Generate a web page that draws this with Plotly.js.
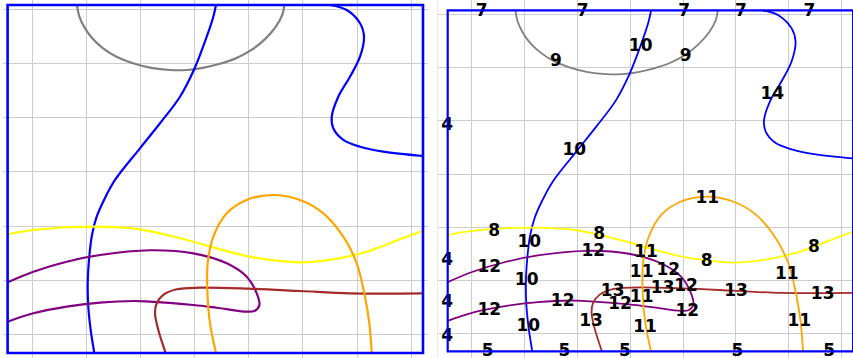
<!DOCTYPE html>
<html>
<head>
<meta charset="utf-8">
<script src="https://cdn.plot.ly/plotly-3.0.1.min.js"></script>
<style>
  html, body { margin: 0; padding: 0; background: #fff; }
  #chart { width: 853px; height: 358px; }
</style>
</head>
<body>
<div id="chart"></div>
<script>
// Domain of the contour field (grid units)
const domainX = [-0.45, 7.215];
const domainY = [-0.342, 6.08];

// Contour lines, in grid units
const grayArcX = [0.830, 0.870, 0.960, 1.100, 1.300, 1.550, 1.850, 2.200, 2.550, 2.850, 3.150, 3.450, 3.750, 4.050, 4.300, 4.500, 4.620, 4.656];
const grayArcY = [6.080, 5.880, 5.680, 5.480, 5.290, 5.130, 5.010, 4.920, 4.880, 4.880, 4.920, 4.990, 5.090, 5.250, 5.450, 5.680, 5.900, 6.080];

const blueLeftX = [3.395, 3.346, 3.224, 2.995, 2.731, 2.362, 1.993, 1.532, 1.329, 1.194, 1.107, 1.057, 1.028, 1.039, 1.083, 1.150];
const blueLeftY = [6.080, 5.863, 5.494, 4.898, 4.387, 3.897, 3.435, 2.851, 2.482, 2.173, 1.836, 1.435, 0.945, 0.513, 0.083, -0.342];

const blueRightX = [5.499, 5.807, 6.053, 6.127, 6.053, 5.868, 5.652, 5.531, 5.560, 5.745, 6.053, 6.483, 7.215];
const blueRightY = [6.080, 5.987, 5.742, 5.494, 5.125, 4.756, 4.387, 4.018, 3.804, 3.589, 3.465, 3.373, 3.293];

const yellowX = [-0.45, 0.024, 1.131, 1.993, 2.855, 3.408, 4.084, 4.946, 5.560, 6.176, 6.791, 7.215];
const yellowY = [1.849, 1.928, 1.989, 1.941, 1.744, 1.590, 1.424, 1.332, 1.387, 1.528, 1.756, 1.915];

const purpleX = [-0.45, 0.024, 0.640, 1.255, 2.178, 2.977, 3.593, 3.962, 4.147, 4.195, 4.115, 3.962, 3.408, 2.977, 2.178, 1.869, 1.255, 0.640, 0.024, -0.45];
const purpleY = [0.963, 1.159, 1.343, 1.467, 1.554, 1.498, 1.314, 1.066, 0.760, 0.544, 0.439, 0.421, 0.494, 0.544, 0.605, 0.618, 0.587, 0.513, 0.391, 0.236];

const brownX = [2.467, 2.331, 2.270, 2.301, 2.423, 2.670, 3.100, 3.991, 4.946, 5.868, 7.215];
const brownY = [-0.342, 0.083, 0.391, 0.576, 0.729, 0.834, 0.863, 0.845, 0.803, 0.760, 0.760];

const orangeX = [3.395, 3.285, 3.235, 3.242, 3.346, 3.593, 3.962, 4.453, 4.946, 5.376, 5.745, 5.992, 6.145, 6.224, 6.269];
const orangeY = [-0.342, 0.207, 0.821, 1.314, 1.804, 2.236, 2.482, 2.574, 2.482, 2.236, 1.804, 1.314, 0.697, 0.207, -0.342];

// Labels of the annotated copy
const labelText = [
  '7', '7', '7', '7', '7',
  '9', '9', '10', '10', '14',
  '4', '4', '4', '4',
  '6', '6', '6', '6',
  '11', '8', '8', '8', '8',
  '10', '10', '10',
  '12', '12', '12', '12', '12', '12', '12', '12',
  '11', '11', '11', '11', '11', '11',
  '13', '13', '13', '13', '13',
  '5', '5', '5', '5', '5'
];
const labelX = [
  0.193, 2.102, 4.023, 5.095, 6.387,
  1.598, 4.050, 3.199, 1.944, 5.687,
  -0.458, -0.458, -0.458, -0.458,
  7.215, 7.215, 7.215, 7.215,
  4.458, 0.431, 2.416, 4.447, 6.476,
  1.093, 1.044, 1.074,
  0.337, 2.303, 3.721, 4.056, 0.337, 1.724, 2.808, 4.080,
  3.299, 3.218, 3.218, 3.280, 5.960, 6.198,
  2.670, 3.615, 5.001, 6.640, 2.259,
  0.306, 1.755, 2.902, 5.026, 6.765
];
const labelY = [
  6.050, 6.050, 6.050, 6.050, 6.050,
  5.108, 5.202, 5.404, 3.445, 4.500,
  3.916, 1.373, 0.575, -0.071,
  4.675, 2.598, 1.323, 0.211,
  2.534, 1.920, 1.856, 1.341, 1.605,
  1.699, 0.997, 0.117,
  1.228, 1.543, 1.185, 0.884, 0.432, 0.601, 0.537, 0.413,
  1.511, 1.134, 0.669, 0.098, 1.102, 0.225,
  0.776, 0.839, 0.776, 0.726, 0.225,
  -0.354, -0.354, -0.354, -0.354, -0.354
];

const gridX = [0, 1, 2, 3, 4, 5, 6, 7];
const gridY = [0, 1, 2, 3, 4, 5, 6];

const lines = [
  { x: grayArcX, y: grayArcY, color: '#808080' },
  { x: blueLeftX, y: blueLeftY, color: '#0000ff' },
  { x: blueRightX, y: blueRightY, color: '#0000ff' },
  { x: yellowX, y: yellowY, color: '#ffff00' },
  { x: purpleX, y: purpleY, color: '#800080' },
  { x: brownX, y: brownY, color: '#a52a2a' },
  { x: orangeX, y: orangeY, color: '#ffa500' }
];

const traces = [];
[['x', 'y', 2.2], ['x2', 'y2', 1.8]].forEach(([xa, ya, w]) => {
  lines.forEach(l => {
    traces.push({
      type: 'scatter', mode: 'lines', x: l.x, y: l.y,
      xaxis: xa, yaxis: ya, hoverinfo: 'skip',
      line: { color: l.color, width: w, shape: 'spline', smoothing: 1 }
    });
  });
});

traces.push({
  type: 'scatter', mode: 'text', x: labelX, y: labelY, text: labelText,
  xaxis: 'x2', yaxis: 'y2', cliponaxis: false, hoverinfo: 'skip',
  textposition: 'middle center',
  textfont: { family: 'DejaVu Sans', size: 17, color: '#000', weight: 'bold' }
});

function axis(domain, range, vals) {
  return {
    domain: domain, range: range, tickvals: vals, showticklabels: false,
    ticks: '', showgrid: true, gridcolor: '#cdcdcd', gridwidth: 1,
    zeroline: false, showline: false, fixedrange: true
  };
}

function frame(xref, yref, w) {
  return {
    type: 'rect', xref: xref, yref: yref, layer: 'above',
    x0: domainX[0], x1: domainX[1], y0: domainY[0], y1: domainY[1],
    line: { color: '#0000ff', width: w }
  };
}

const layout = {
  width: 853, height: 358,
  margin: { l: 0, r: 0, t: 0, b: 0 },
  paper_bgcolor: '#fff', plot_bgcolor: '#fff',
  showlegend: false,
  xaxis: axis([3.3 / 853, 428.3 / 853], [-0.5296, 7.313], gridX),
  yaxis: axis([0, 1], [-0.4336, 6.1716], gridY),
  xaxis2: Object.assign(axis([437.7 / 853, 1], [-0.639, 7.213], gridX),
    { anchor: 'y2', showline: true, mirror: true, linecolor: '#ececec', linewidth: 1 }),
  yaxis2: Object.assign(axis([0, 1], [-0.465, 6.277], gridY),
    { anchor: 'x2', showline: true, mirror: true, linecolor: '#ececec', linewidth: 1 }),
  shapes: [frame('x', 'y', 2.6), frame('x2', 'y2', 2.2)]
};

Plotly.newPlot('chart', traces, layout, { staticPlot: true, displayModeBar: false });
</script>
</body>
</html>
